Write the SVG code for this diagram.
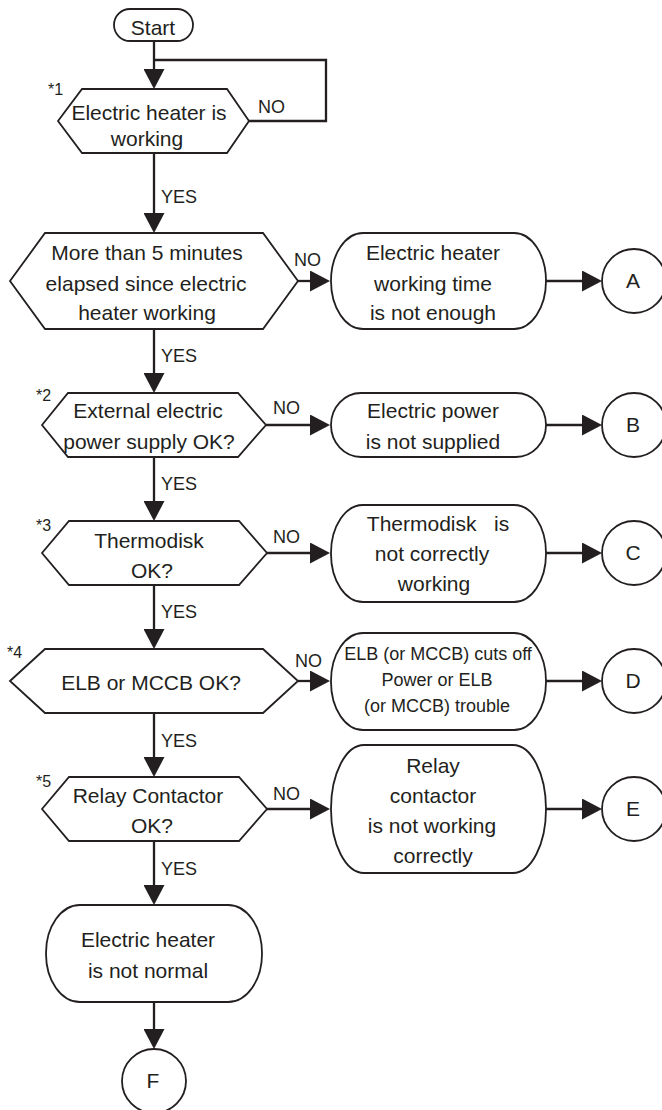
<svg xmlns="http://www.w3.org/2000/svg" width="662" height="1110" viewBox="0 0 662 1110">
<defs>
<style>
.s{fill:#fff;stroke:#231f20;stroke-width:1.8}
.c{fill:none;stroke:#231f20;stroke-width:2.3}
text{font-family:"Liberation Sans",Arial,sans-serif;fill:#231f20}
.t{font-size:21px;text-anchor:middle}
.d{font-size:18px;text-anchor:middle}
.l{font-size:18px}
.n{font-size:16px}
</style>
<marker id="ah" markerUnits="userSpaceOnUse" markerWidth="21" markerHeight="21" refX="0" refY="10.5" orient="auto" viewBox="0 0 21 21">
<path d="M0,0 L20,10.5 L0,21 z" fill="#231f20"/>
</marker>
</defs>
<rect width="662" height="1110" fill="#fff"/>
<g id="connectors">
<path class="c" d="M154,41 V69" marker-end="url(#ah)"/>
<path class="c" d="M249,121 H326 V60 H154"/>
<path class="c" d="M154,153 V213" marker-end="url(#ah)"/>
<path class="c" d="M298,281 H310" marker-end="url(#ah)"/>
<path class="c" d="M546,281 H582" marker-end="url(#ah)"/>
<path class="c" d="M154,329 V373" marker-end="url(#ah)"/>
<path class="c" d="M266,425 H310" marker-end="url(#ah)"/>
<path class="c" d="M546,425 H582" marker-end="url(#ah)"/>
<path class="c" d="M154,457 V501" marker-end="url(#ah)"/>
<path class="c" d="M267,553 H310" marker-end="url(#ah)"/>
<path class="c" d="M546,553 H582" marker-end="url(#ah)"/>
<path class="c" d="M154,585 V629" marker-end="url(#ah)"/>
<path class="c" d="M298,681 H310" marker-end="url(#ah)"/>
<path class="c" d="M546,681 H582" marker-end="url(#ah)"/>
<path class="c" d="M154,713 V757" marker-end="url(#ah)"/>
<path class="c" d="M267,809 H310" marker-end="url(#ah)"/>
<path class="c" d="M546,809 H582" marker-end="url(#ah)"/>
<path class="c" d="M154,841 V885" marker-end="url(#ah)"/>
<path class="c" d="M154,1002 V1029" marker-end="url(#ah)"/>
<text class="l" x="258" y="113">NO</text>
<text class="l" x="161" y="203">YES</text>
<text class="l" x="294" y="266">NO</text>
<text class="l" x="161" y="362">YES</text>
<text class="l" x="273" y="414">NO</text>
<text class="l" x="161" y="490">YES</text>
<text class="l" x="273" y="543">NO</text>
<text class="l" x="161" y="618">YES</text>
<text class="l" x="295" y="667">NO</text>
<text class="l" x="161" y="747">YES</text>
<text class="l" x="273" y="800">NO</text>
<text class="l" x="161" y="875">YES</text>
</g>
<g id="start">
<rect class="s" x="114" y="9" width="79" height="32" rx="16" ry="16"/>
<text class="t" x="153" y="35">Start</text>
</g>
<g id="q1">
<polygon class="s" points="58,121 82,89 227,89 249,121 227,153 82,153"/>
<text class="n" x="48" y="95">*1</text>
<text class="t" x="149" y="120">Electric heater is</text>
<text class="t" x="147" y="146">working</text>
</g>
<g id="q2">
<polygon class="s" points="10,281 45,233 263,233 298,281 263,329 45,329"/>
<text class="t" x="147" y="260">More than 5 minutes</text>
<text class="t" x="146" y="291">elapsed since electric</text>
<text class="t" x="147" y="320">heater working</text>
</g>
<g id="rA">
<rect class="s" x="331" y="233" width="215" height="96" rx="32" ry="48"/>
<text class="t" x="433" y="260">Electric heater</text>
<text class="t" x="433" y="291">working time</text>
<text class="t" x="433" y="320">is not enough</text>
</g>
<g id="cA">
<circle class="s" cx="634" cy="281" r="32"/>
<text class="t" x="633" y="288">A</text>
</g>
<g id="q3">
<polygon class="s" points="42,425 68,393 238,393 266,425 238,457 68,457"/>
<text class="n" x="36" y="401">*2</text>
<text class="t" x="148" y="418">External electric</text>
<text class="t" x="149" y="449">power supply OK?</text>
</g>
<g id="rB">
<rect class="s" x="331" y="393" width="215" height="64" rx="30" ry="32"/>
<text class="t" x="433" y="418">Electric power</text>
<text class="t" x="433" y="449">is not supplied</text>
</g>
<g id="cB">
<circle class="s" cx="634" cy="425" r="32"/>
<text class="t" x="633" y="432">B</text>
</g>
<g id="q4">
<polygon class="s" points="42,553 69,521 239,521 267,553 239,585 69,585"/>
<text class="n" x="36" y="531">*3</text>
<text class="t" x="149" y="548">Thermodisk</text>
<text class="t" x="152" y="578">OK?</text>
</g>
<g id="rC">
<rect class="s" x="331" y="505" width="215" height="97" rx="32" ry="48"/>
<text class="t" x="438" y="531" xml:space="preserve">Thermodisk   is</text>
<text class="t" x="432" y="561">not correctly</text>
<text class="t" x="434" y="591">working</text>
</g>
<g id="cC">
<circle class="s" cx="634" cy="553" r="32"/>
<text class="t" x="633" y="560">C</text>
</g>
<g id="q5">
<polygon class="s" points="10,681 45,649 263,649 298,681 263,713 45,713"/>
<text class="n" x="7" y="658">*4</text>
<text class="t" x="151" y="690">ELB or MCCB OK?</text>
</g>
<g id="rD">
<rect class="s" x="331" y="633" width="215" height="97" rx="32" ry="48"/>
<text class="d" x="438" y="660">ELB (or MCCB) cuts off</text>
<text class="d" x="437" y="686">Power or ELB</text>
<text class="d" x="437" y="712">(or MCCB) trouble</text>
</g>
<g id="cD">
<circle class="s" cx="634" cy="681" r="32"/>
<text class="t" x="633" y="688">D</text>
</g>
<g id="q6">
<polygon class="s" points="42,809 69,777 239,777 267,809 239,841 69,841"/>
<text class="n" x="36" y="787">*5</text>
<text class="t" x="148" y="803">Relay Contactor</text>
<text class="t" x="152" y="833">OK?</text>
</g>
<g id="rE">
<rect class="s" x="331" y="745" width="215" height="128" rx="33" ry="64"/>
<text class="t" x="433" y="773">Relay</text>
<text class="t" x="433" y="803">contactor</text>
<text class="t" x="432" y="833">is not working</text>
<text class="t" x="433" y="863">correctly</text>
</g>
<g id="cE">
<circle class="s" cx="634" cy="809" r="32"/>
<text class="t" x="633" y="816">E</text>
</g>
<g id="rF">
<rect class="s" x="46" y="905" width="216" height="97" rx="34" ry="48"/>
<text class="t" x="148" y="947">Electric heater</text>
<text class="t" x="148" y="978">is not normal</text>
</g>
<g id="cF">
<circle class="s" cx="154" cy="1081" r="32"/>
<text class="t" x="153" y="1088">F</text>
</g>
</svg>
